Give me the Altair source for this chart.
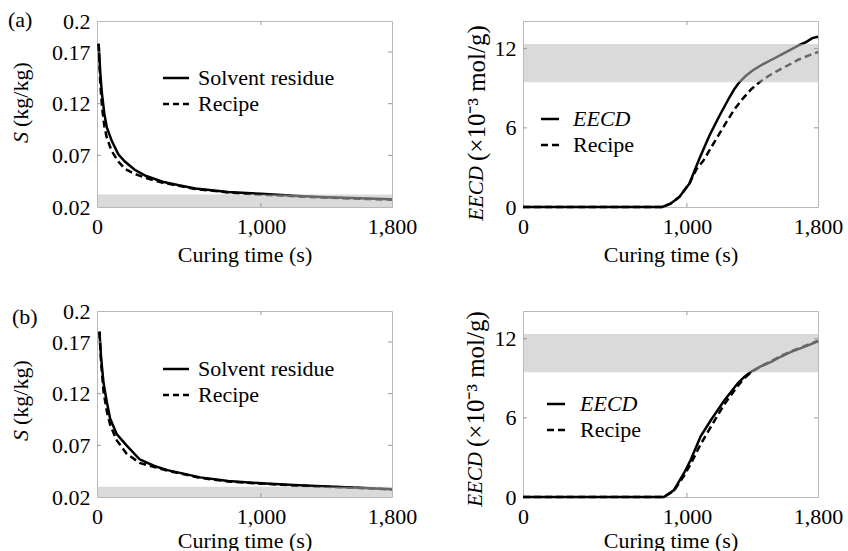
import altair as alt
import pandas as pd

FONT = "Liberation Serif"
FS = 22

# ---------------- data ----------------
# (a) solvent residue panel
ta_s = [10, 20, 30, 45, 60, 90, 130, 170, 230, 300, 400, 500, 600, 800, 1000, 1200, 1400, 1600, 1800]
Sa_s = [0.178, 0.150, 0.130, 0.110, 0.097, 0.084, 0.071, 0.064, 0.056, 0.050, 0.0445, 0.041, 0.038, 0.0345, 0.0328, 0.031, 0.0295, 0.0285, 0.0275]
ta_d = [10, 20, 30, 45, 60, 90, 130, 170, 230, 300, 400, 500, 600, 800, 1000, 1200, 1400, 1600, 1800]
Sa_d = [0.178, 0.140, 0.118, 0.098, 0.087, 0.074, 0.064, 0.057, 0.052, 0.048, 0.0435, 0.0405, 0.0375, 0.034, 0.032, 0.0305, 0.029, 0.028, 0.027]

# (a) EECD panel
ea_t_s = [0, 850, 900, 954, 1015, 1076, 1137, 1198, 1259, 1290, 1320, 1360, 1401, 1460, 1523, 1585, 1645, 1690, 1727, 1765, 1800]
ea_s = [0, 0, 0.25, 0.76, 1.77, 3.66, 5.4, 6.9, 8.3, 8.95, 9.45, 9.95, 10.35, 10.8, 11.2, 11.6, 12.0, 12.3, 12.5, 12.8, 12.9]
ea_t_d = [0, 850, 900, 954, 1015, 1060, 1100, 1157, 1239, 1290, 1340, 1390, 1442, 1500, 1564, 1625, 1686, 1745, 1800]
ea_d = [0, 0, 0.25, 0.76, 1.77, 2.9, 3.5, 4.7, 6.4, 7.4, 8.2, 8.9, 9.45, 9.95, 10.4, 10.8, 11.2, 11.5, 11.75]

# (b) solvent residue panel
tb_s = [15, 25, 40, 60, 80, 120, 180, 260, 350, 430, 630, 800, 1030, 1200, 1440, 1600, 1800]
Sb_s = [0.180, 0.155, 0.130, 0.112, 0.096, 0.081, 0.070, 0.0565, 0.050, 0.046, 0.039, 0.0355, 0.033, 0.0315, 0.030, 0.029, 0.0275]
tb_d = [15, 25, 40, 60, 80, 120, 180, 260, 350, 430, 630, 800, 1030, 1200, 1440, 1600, 1800]
Sb_d = [0.180, 0.150, 0.122, 0.103, 0.090, 0.075, 0.062, 0.053, 0.049, 0.0455, 0.0385, 0.035, 0.0327, 0.0312, 0.0297, 0.0288, 0.0273]

# (b) EECD panel
eb_t = [0, 859, 920, 982, 1023, 1084, 1145, 1227, 1309, 1350, 1391, 1450, 1514, 1575, 1636, 1720, 1800]
eb_s = [0, 0, 0.5, 1.8, 2.8, 4.6, 5.8, 7.3, 8.6, 9.1, 9.5, 9.9, 10.25, 10.65, 11.0, 11.4, 11.8]
eb_d = [0, 0, 0.45, 1.6, 2.5, 4.0, 5.3, 7.0, 8.4, 9.0, 9.45, 9.9, 10.3, 10.7, 11.05, 11.45, 11.85]

# shaded target bands
band_a_S = [0.02, 0.032]
band_b_S = [0.02, 0.030]
band_E = [9.45, 12.35]

x_ticks = [0, 1000, 1800]
S_ticks = [0.02, 0.07, 0.12, 0.17, 0.2]
E_ticks = [0, 6, 12]

W, H = 295, 186
one = pd.DataFrame({"a": [0]})


def text_layer(txt, x, y, align="left", baseline="middle", angle=0, italic=False, size=FS):
    kw = dict(font=FONT, fontSize=size, align=align, baseline=baseline, color="black")
    if angle:
        kw["angle"] = angle
    if italic:
        kw["fontStyle"] = "italic"
    return alt.Chart(pd.DataFrame({"t": [txt]})).mark_text(**kw).encode(
        x=alt.value(x), y=alt.value(y), text="t:N")


def sample(x1, x2, y, dash=None):
    kw = dict(color="black", strokeWidth=2.5)
    if dash:
        kw["strokeDash"] = dash
    return alt.Chart(one).mark_rule(**kw).encode(x=alt.value(x1), x2=alt.value(x2), y=alt.value(y))


def panel(ts, ys, td, yd, ydom, yticks, yfmt, band, leg, ytitle, xtitle_y, tag=None):
    xs = alt.Scale(domain=[0, 1800], nice=False, zero=False)
    ys_ = alt.Scale(domain=ydom, nice=False, zero=False)
    xaxis = alt.Axis(values=x_ticks, format=",d", title="Curing time (s)",
                     labelPadding=9, titleBaseline="alphabetic", titleY=xtitle_y,
                     labelFlush=False)
    yaxis = alt.Axis(values=yticks, format=yfmt, title="", labelPadding=7,
                     labelFlush=False)

    def X(f):
        return alt.X(f, scale=xs, axis=xaxis)

    def Y(f):
        return alt.Y(f, scale=ys_, axis=yaxis)

    dfs = pd.DataFrame({"x": ts, "y": ys})
    dfd = pd.DataFrame({"x": td, "y": yd})
    dashed = alt.Chart(dfd).mark_line(color="black", strokeWidth=2.5, strokeDash=[7, 4]).encode(
        x=X("x:Q"), y=Y("y:Q"))
    solid = alt.Chart(dfs).mark_line(color="black", strokeWidth=2.5).encode(
        x=X("x:Q"), y=Y("y:Q"))
    bdf = pd.DataFrame({"x": [0], "x1": [1800], "y": [band[0]], "y1": [band[1]]})
    bandl = alt.Chart(bdf).mark_rect(color="#bcbcbc", opacity=0.55).encode(
        x=X("x:Q"), x2="x1:Q", y=Y("y:Q"), y2="y1:Q")
    # inward minor tick marks (MATLAB-style box)
    inner_y = [v for v in yticks if ydom[0] < v < ydom[1]]
    tyd = pd.DataFrame({"y": inner_y})
    tk_col = "#9a9a9a"
    tl = alt.Chart(tyd).mark_rule(color=tk_col).encode(
        y=Y("y:Q"), x=alt.value(0), x2=alt.value(4))
    tr = alt.Chart(tyd).mark_rule(color=tk_col).encode(
        y=Y("y:Q"), x=alt.value(W - 4), x2=alt.value(W))
    txd = pd.DataFrame({"x": [1000]})
    tt = alt.Chart(txd).mark_rule(color=tk_col).encode(
        x=X("x:Q"), y=alt.value(0), y2=alt.value(4))
    tb = alt.Chart(txd).mark_rule(color=tk_col).encode(
        x=X("x:Q"), y=alt.value(H - 4), y2=alt.value(H))
    # legend
    lx1, lx2, ly1, ly2, ltx, lab1, lab1_italic, dash_leg = leg
    layers = [dashed, solid, bandl, tl, tr, tt, tb,
              sample(lx1, lx2, ly1), sample(lx1, lx2, ly2, dash_leg),
              text_layer(lab1, ltx, ly1, italic=lab1_italic),
              text_layer("Recipe", ltx, ly2)]
    # y-axis title: italic symbol + normal unit
    tx, ty, sym, unit, s1, s2 = ytitle
    layers += [text_layer(sym, tx, ty, align="right", angle=270, italic=True, size=s1),
               text_layer(unit, tx, ty - 5, align="left", angle=270, size=s2)]
    if tag:
        layers.append(text_layer(tag[0], tag[1], tag[2], baseline="top"))
    return alt.layer(*layers).properties(width=W, height=H)


pa1 = panel(ta_s, Sa_s, ta_d, Sa_d, [0.02, 0.2], S_ticks, ".2~f", band_a_S,
            (66, 92, 57, 83, 101, "Solvent residue", False, [6, 4]),
            (-76, 111, "S", "(kg/kg)", 22, 22), 54, tag=("(a)", -89, -11))
pa2 = panel(ea_t_s, ea_s, ea_t_d, ea_d, [0, 14.1], E_ticks, "d", band_E,
            (18, 36, 98, 124, 50, "EECD", True, [7, 4]),
            (-46, 145, "EECD", "(×10⁻³ mol/g)", 21, 25), 54)
pb1 = panel(tb_s, Sb_s, tb_d, Sb_d, [0.02, 0.2], S_ticks, ".2~f", band_b_S,
            (66, 92, 58, 84, 101, "Solvent residue", False, [6, 4]),
            (-76, 119, "S", "(kg/kg)", 22, 22), 50, tag=("(b)", -85, -4))
pb2 = panel(eb_t, eb_s, eb_t, eb_d, [0, 14.1], E_ticks, "d", band_E,
            (24, 42, 93, 119, 57, "EECD", True, [7, 4]),
            (-47, 141, "EECD", "(×10⁻³ mol/g)", 21, 25), 50)

chart = alt.concat(pa1, pa2, pb1, pb2, columns=2,
                   spacing={"row": 104, "column": 131}, bounds="flush").properties(
    padding={"left": 7, "top": 8, "right": 0, "bottom": 0},
    background="white"
).configure_view(stroke="#b8b8b8", strokeWidth=1).configure_axis(
    labelFont=FONT, labelFontSize=FS, labelColor="black",
    titleFont=FONT, titleFontSize=FS, titleColor="black", titleFontWeight="normal",
    ticks=False, domain=False, grid=False
)

chart.save("out.html", embed_options={"renderer": "svg", "actions": False})
